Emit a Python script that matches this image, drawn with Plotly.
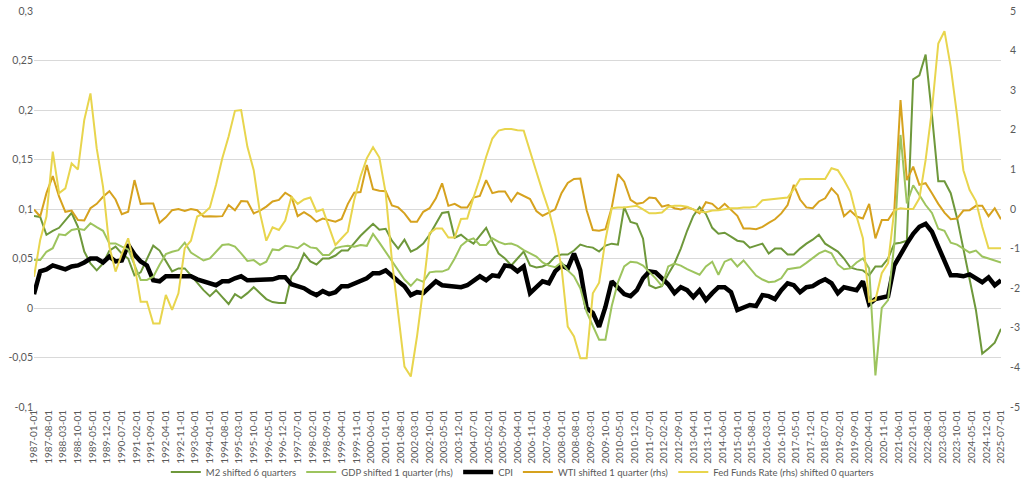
import pandas as pd
import plotly.graph_objects as go

# quarterly observations 1987-01-01 .. 2025-07-01
dates = pd.date_range("1987-01-01", "2025-07-01", freq="QS")

m2 = [0.093, 0.092, 0.074, 0.078, 0.081, 0.089, 0.096, 0.082, 0.057, 0.045,
      0.038, 0.045, 0.058, 0.062, 0.055, 0.050, 0.033, 0.036, 0.050, 0.063,
      0.058, 0.047, 0.037, 0.040, 0.040, 0.033, 0.025, 0.018, 0.012, 0.018,
      0.011, 0.004, 0.014, 0.010, 0.015, 0.021, 0.015, 0.009, 0.006, 0.005,
      0.005, 0.032, 0.040, 0.055, 0.047, 0.044, 0.050, 0.050, 0.053, 0.058,
      0.058, 0.066, 0.073, 0.079, 0.085, 0.079, 0.080, 0.068, 0.060, 0.069,
      0.057, 0.060, 0.065, 0.074, 0.085, 0.096, 0.097, 0.071, 0.074, 0.069,
      0.065, 0.073, 0.081, 0.067, 0.055, 0.050, 0.043, 0.050, 0.057, 0.043,
      0.041, 0.042, 0.045, 0.052, 0.054, 0.054, 0.058, 0.064, 0.062, 0.061,
      0.057, 0.063, 0.065, 0.064, 0.102, 0.087, 0.085, 0.070, 0.023, 0.020,
      0.022, 0.034, 0.045, 0.060, 0.078, 0.093, 0.102, 0.095, 0.081, 0.075,
      0.076, 0.072, 0.068, 0.067, 0.061, 0.063, 0.065, 0.055, 0.060, 0.060,
      0.054, 0.054, 0.060, 0.065, 0.069, 0.074, 0.065, 0.061, 0.057, 0.050,
      0.041, 0.039, 0.038, 0.033, 0.042, 0.042, 0.050, 0.065, 0.066, 0.068,
      0.231, 0.235, 0.256, 0.195, 0.128, 0.128, 0.116, 0.091, 0.060, 0.029,
      -0.002, -0.046, -0.041, -0.035, -0.021]

cpi = [0.014, 0.037, 0.039, 0.043, 0.041, 0.039, 0.042, 0.043, 0.046, 0.050,
       0.050, 0.046, 0.052, 0.047, 0.048, 0.064, 0.054, 0.047, 0.043, 0.028,
       0.027, 0.032, 0.032, 0.032, 0.033, 0.032, 0.029, 0.027, 0.025, 0.023,
       0.027, 0.027, 0.030, 0.032, 0.028, 0.028, 0.028, 0.028, 0.029, 0.031,
       0.031, 0.024, 0.022, 0.020, 0.016, 0.013, 0.017, 0.014, 0.016, 0.022,
       0.022, 0.025, 0.027, 0.030, 0.035, 0.035, 0.038, 0.032, 0.027, 0.022,
       0.013, 0.016, 0.015, 0.021, 0.027, 0.023, 0.022, 0.021, 0.021, 0.023,
       0.028, 0.032, 0.028, 0.033, 0.032, 0.043, 0.042, 0.037, 0.042, 0.015,
       0.021, 0.027, 0.025, 0.037, 0.043, 0.040, 0.055, 0.038, 0.000, -0.005,
       -0.019, 0.001, 0.027, 0.021, 0.014, 0.012, 0.018, 0.030, 0.037, 0.036,
       0.030, 0.024, 0.015, 0.021, 0.018, 0.011, 0.018, 0.008, 0.015, 0.021,
       0.021, 0.016, -0.002, 0.000, 0.003, 0.002, 0.013, 0.012, 0.009, 0.018,
       0.025, 0.023, 0.016, 0.021, 0.022, 0.026, 0.029, 0.025, 0.015, 0.021,
       0.019, 0.018, 0.027, 0.004, 0.009, 0.011, 0.012, 0.043, 0.055, 0.065,
       0.075, 0.082, 0.085, 0.077, 0.062, 0.047, 0.033, 0.033, 0.032, 0.034,
       0.030, 0.026, 0.031, 0.023, 0.028]

gdp = [-1.29, -1.29, -1.08, -0.99, -0.64, -0.66, -0.53, -0.50, -0.53, -0.36,
       -0.46, -0.55, -0.87, -0.87, -0.95, -1.02, -1.41, -1.79, -1.79, -1.71,
       -1.41, -1.14, -1.08, -1.04, -0.85, -1.10, -1.20, -1.30, -1.25, -1.08,
       -0.91, -0.89, -0.95, -1.12, -1.31, -1.29, -1.41, -1.33, -1.02, -1.04,
       -0.93, -0.95, -0.99, -0.87, -0.97, -0.99, -1.16, -1.16, -0.99, -0.95,
       -0.93, -0.95, -0.91, -0.93, -0.63, -0.85, -1.08, -1.31, -1.56, -1.78,
       -1.94, -1.77, -1.84, -1.60, -1.58, -1.58, -1.52, -1.25, -0.93, -0.80,
       -0.74, -0.91, -0.91, -0.74, -0.83, -0.89, -0.87, -0.93, -1.04, -1.12,
       -1.20, -1.35, -1.43, -1.47, -1.35, -1.55, -1.70, -2.00, -2.60, -2.95,
       -3.30, -3.30, -2.45, -1.85, -1.45, -1.33, -1.35, -1.43, -1.60, -1.75,
       -1.95, -1.45, -1.38, -1.43, -1.52, -1.58, -1.66, -1.45, -1.33, -1.66,
       -1.33, -1.26, -1.45, -1.30, -1.48, -1.68, -1.78, -1.85, -1.83, -1.75,
       -1.52, -1.50, -1.47, -1.36, -1.25, -1.12, -1.05, -1.12, -1.40, -1.52,
       -1.50, -1.35, -1.25, -1.50, -4.20, -2.50, -2.30, -0.90, 1.87, 0.14,
       0.60, 0.35, 0.10, -0.10, -0.50, -0.55, -0.85, -0.90, -1.00, -1.10,
       -1.05, -1.20, -1.25, -1.30, -1.35]

wti = [-0.01, -0.19, 0.40, 0.83, 0.31, -0.07, -0.04, -0.28, -0.29, 0.02,
       0.13, 0.31, 0.45, 0.24, -0.13, -0.07, 0.73, 0.13, 0.14, 0.14,
       -0.35, -0.21, -0.03, 0.00, -0.05, 0.00, -0.03, -0.19, -0.18, -0.19,
       -0.18, 0.10, -0.03, 0.20, 0.19, -0.11, -0.04, 0.06, 0.19, 0.23,
       0.41, 0.31, -0.18, -0.08, -0.18, -0.32, -0.24, -0.28, -0.32, -0.25,
       0.13, 0.41, 0.43, 1.11, 0.50, 0.46, 0.45, 0.09, 0.04, -0.11,
       -0.32, -0.32, -0.07, 0.02, 0.27, 0.65, 0.08, 0.13, 0.04, 0.04,
       0.29, 0.33, 0.73, 0.40, 0.44, 0.44, 0.19, 0.41, 0.33, 0.25,
       -0.05, -0.17, -0.09, -0.01, 0.40, 0.66, 0.76, 0.77, -0.03, -0.53,
       -0.55, -0.51, 0.04, 0.88, 0.69, 0.23, 0.13, 0.16, 0.29, 0.27,
       0.06, 0.10, 0.02, -0.01, 0.04, -0.01, -0.11, 0.17, 0.13, -0.01,
       0.13, -0.01, -0.17, -0.49, -0.49, -0.51, -0.45, -0.35, -0.26, -0.11,
       0.10, 0.61, 0.24, 0.04, 0.02, 0.19, 0.27, 0.52, 0.35, -0.18,
       -0.04, -0.19, -0.24, 0.13, -0.74, -0.28, -0.28, -0.04, 2.75, 0.73,
       1.07, 0.61, 0.65, 0.40, 0.13, -0.09, -0.26, -0.24, -0.04, -0.03,
       0.08, 0.08, -0.18, 0.02, -0.26]

fed = [-1.71, -0.78, -0.19, 1.45, 0.40, 0.52, 1.15, 1.00, 2.25, 2.92,
       1.53, 0.56, -0.95, -1.58, -1.14, -0.74, -1.41, -2.34, -2.34, -2.89,
       -2.89, -2.17, -2.55, -2.13, -0.99, -0.80, -0.19, -0.11, 0.04, 0.61,
       1.28, 1.83, 2.48, 2.50, 1.57, 0.98, -0.11, -0.80, -0.46, -0.53,
       -0.29, 0.31, 0.13, 0.24, 0.29, -0.07, -0.01, -0.45, -0.91, -0.74,
       -0.57, 0.23, 0.82, 1.28, 1.56, 1.30, 0.40, -1.29, -2.63, -3.98,
       -4.23, -3.22, -2.00, -0.61, -0.49, -0.49, -0.72, -0.72, -0.25, -0.24,
       0.29, 0.77, 1.32, 1.78, 1.98, 2.02, 2.02, 1.99, 1.98, 1.49,
       0.94, 0.44, -0.03, -0.66, -1.46, -2.97, -3.22, -3.77, -3.77, -2.13,
       -1.86, -0.78, 0.02, 0.04, 0.04, 0.06, 0.08, -0.01, -0.11, -0.11,
       -0.09, 0.05, 0.08, 0.08, 0.06, -0.01, -0.07, -0.08, -0.04, -0.03,
       -0.01, 0.02, 0.02, 0.04, 0.04, 0.06, 0.22, 0.24, 0.25, 0.27,
       0.29, 0.50, 0.75, 0.76, 0.76, 0.77, 0.76, 1.03, 0.98, 0.73,
       0.44, -0.19, -0.74, -2.34, -2.30, -1.62, -1.37, -0.03, 0.02, 0.00,
       0.00, 0.27, 1.24, 2.50, 4.18, 4.49, 3.59, 2.37, 0.98, 0.48,
       0.20, -0.45, -0.99, -0.99, -0.99]

left_ticks = [-0.1, -0.05, 0, 0.05, 0.1, 0.15, 0.2, 0.25, 0.3]
left_labels = ["-0,1", "-0,05", "0", "0,05", "0,1", "0,15", "0,2", "0,25", "0,3"]
right_ticks = [-5, -4, -3, -2, -1, 0, 1, 2, 3, 4, 5]
right_labels = ["-5", "-4", "-3", "-2", "-1", "0", "1", "2", "3", "4", "5"]

# date-axis labels every 7 months
x_ticks = pd.date_range("1987-01-01", "2025-07-01", freq="7MS")
x_labels = [d.strftime("%Y-%m-%d") for d in x_ticks]

C_M2 = "#6e983b"
C_GDP = "#9dc45e"
C_CPI = "#000000"
C_WTI = "#d6a21e"
C_FED = "#e8d54d"
TXT = "#595959"
GRID = "#d9d9d9"
FONT = "Lato"

fig = go.Figure()
fig.add_trace(go.Scatter(x=dates, y=m2, name="M2 shifted 6 quarters", mode="lines",
                         line=dict(color=C_M2, width=2), yaxis="y", legendrank=1))
fig.add_trace(go.Scatter(x=dates, y=cpi, name="CPI", mode="lines",
                         line=dict(color=C_CPI, width=4.5), yaxis="y", legendrank=3))
fig.add_trace(go.Scatter(x=dates, y=gdp, name="GDP shifted 1 quarter (rhs)", mode="lines",
                         line=dict(color=C_GDP, width=2), yaxis="y2", legendrank=2))
fig.add_trace(go.Scatter(x=dates, y=wti, name="WTI shifted 1 quarter (rhs)", mode="lines",
                         line=dict(color=C_WTI, width=2), yaxis="y2", legendrank=4))
fig.add_trace(go.Scatter(x=dates, y=fed, name="Fed Funds Rate (rhs) shifted 0 quarters", mode="lines",
                         line=dict(color=C_FED, width=2), yaxis="y2", legendrank=5))

xr = [dates[0], dates[-1]]
fig.update_layout(
    template="none",
    width=1024, height=488,
    margin=dict(l=34, r=23, t=11, b=81),
    paper_bgcolor="white", plot_bgcolor="white",
    font=dict(family=FONT, size=10, color=TXT),
    showlegend=True,
    hovermode=False,
    legend=dict(orientation="h", x=0.505, xanchor="center",
                yref="container", y=0.033, yanchor="middle",
                font=dict(family=FONT, size=9.5, color=TXT), itemwidth=30,
                traceorder="normal", bgcolor="rgba(0,0,0,0)"),
    xaxis=dict(type="date", range=xr, tickvals=x_ticks, ticktext=x_labels,
               tickangle=-90, showgrid=False, showline=False, zeroline=False,
               ticks="", automargin=False, tickfont=dict(size=10, color=TXT, family=FONT)),
    xaxis2=dict(type="date", range=xr, overlaying="x", anchor="free", position=0.25,
                tickvals=x_ticks, showticklabels=False, showgrid=False, zeroline=False,
                showline=True, linecolor=GRID, linewidth=1,
                ticks="outside", ticklen=4, tickcolor=GRID, tickwidth=1, automargin=False),
    yaxis=dict(range=[-0.1, 0.3], tickvals=left_ticks, ticktext=left_labels,
               showgrid=True, gridcolor=GRID, gridwidth=1, zeroline=False, showline=False,
               ticks="", automargin=False, tickfont=dict(size=10.5, color=TXT, family=FONT)),
    yaxis2=dict(range=[-5, 5], tickvals=right_ticks, ticktext=right_labels,
                overlaying="y", side="right", showgrid=False, zeroline=False, showline=False,
                ticks="", automargin=False, ticklabelstandoff=8,
                tickfont=dict(size=10.5, color=TXT, family=FONT)),
)

# pin the figure to the top-left corner of the page
page_fix = (
    "var gd=document.getElementById('{plot_id}');"
    "var h=document.documentElement, b=document.body;"
    "h.style.margin='0';h.style.padding='0';h.style.overflow='hidden';"
    "b.style.margin='0';b.style.padding='0';b.style.overflow='hidden';"
    "gd.style.position='fixed';gd.style.top='0px';gd.style.left='0px';"
)

fig.write_html("out.html", config={"displayModeBar": False, "staticPlot": True},
               post_script=page_fix)
